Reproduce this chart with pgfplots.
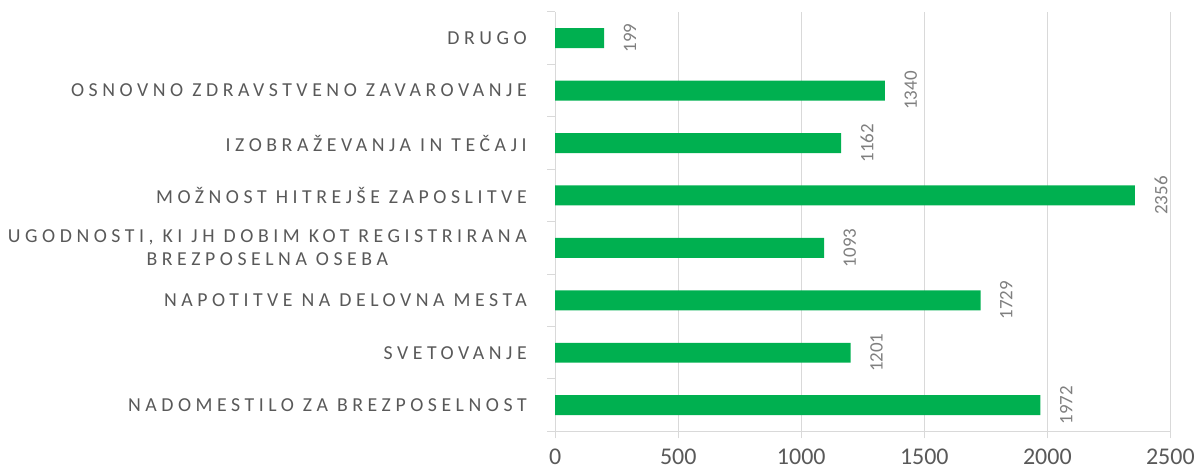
\documentclass[border=0pt]{standalone}
\usepackage{pgfplots}
\pgfplotsset{compat=1.18}
\usepackage{fontspec}
\setmainfont{Carlito}
\newfontfamily\catfont[LetterSpace=23]{Carlito}
\definecolor{bargreen}{HTML}{00B050}
\definecolor{gridgray}{HTML}{D9D9D9}
\definecolor{labgray}{HTML}{595959}
\definecolor{valgray}{HTML}{7F7F7F}
\begin{document}
\begin{tikzpicture}
\begin{axis}[
  xbar,
  scale only axis,
  width=616pt, height=420pt,
  xmin=0, xmax=2500,
  ymin=-0.5, ymax=7.5,
  bar width=20pt,
  xtick={0,500,...,2500},
  xmajorgrids, major grid style={gridgray, line width=1pt},
  ytick={0,...,7},
  yticklabels={
    {NADOMESTILO ZA BREZPOSELNOST},
    {SVETOVANJE},
    {NAPOTITVE NA DELOVNA MESTA},
    {UGODNOSTI, KI JH DOBIM KOT REGISTRIRANA\\BREZPOSELNA OSEBA},
    {MOŽNOST HITREJŠE ZAPOSLITVE},
    {IZOBRAŽEVANJA IN TEČAJI},
    {OSNOVNO ZDRAVSTVENO ZAVAROVANJE},
    {DRUGO}},
  yticklabel style={font=\catfont\fontsize{19.8}{23}\selectfont, text=labgray, align=center, anchor=east, xshift=-18pt},
  xticklabel style={font=\fontsize{24}{27}\selectfont, text=labgray, yshift=-7pt},
  /pgf/number format/assume math mode=true,
  /pgf/number format/1000 sep={},
  major y tick style={draw=none},
  minor ytick={-0.5,0.5,...,7.5},
  minor y tick style={gridgray, line width=1pt},
  minor tick length=8pt,
  major x tick style={gridgray, line width=1pt},
  major tick length=7pt,
  tick align=outside,
  axis x line*=bottom,
  axis y line*=left,
  x axis line style={gridgray, line width=1pt, -},
  y axis line style={gridgray, line width=1pt, -},
  xtick pos=bottom, ytick pos=left,
  clip=false,
  nodes near coords,
  nodes near coords style={font=\fontsize{19}{22}\selectfont, text=valgray, xshift=16pt, rotate=90, anchor=north},
]
\addplot[fill=bargreen, draw=none] coordinates {
  (1972,0) (1201,1) (1729,2) (1093,3) (2356,4) (1162,5) (1340,6) (199,7)};
\end{axis}
\path ([xshift=-556pt,yshift=-41pt]current axis.south west) rectangle ([xshift=26pt,yshift=12pt]current axis.north east);
\end{tikzpicture}
\end{document}
